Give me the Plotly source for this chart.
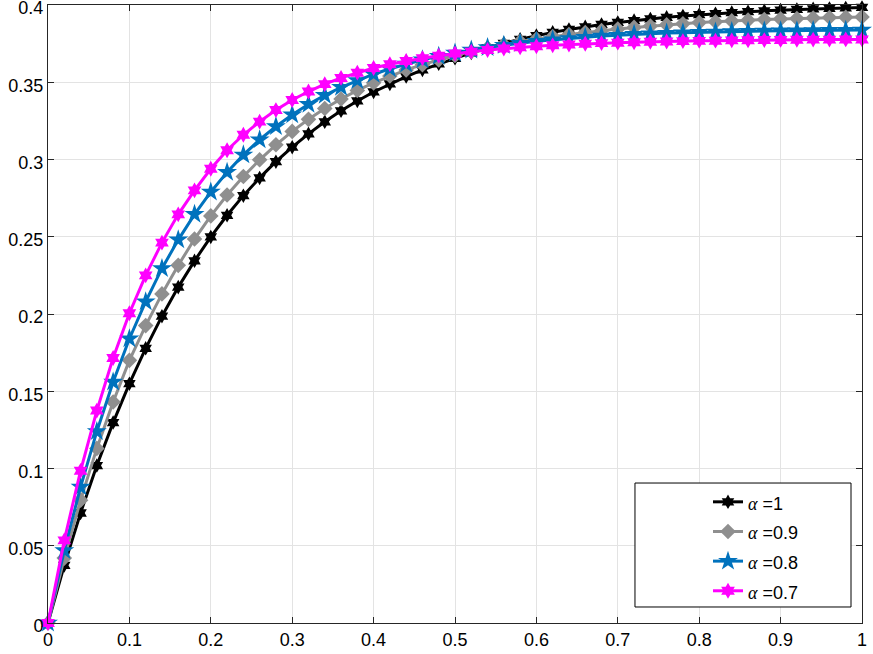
import plotly.graph_objects as go

x_vals = [round(0.02 * i, 2) for i in range(51)]

y_alpha_1 = [0.0, 0.0373, 0.0712, 0.1019, 0.1297, 0.1549, 0.1778, 0.1986, 0.2174, 0.2344,
             0.2499, 0.2639, 0.2766, 0.2881, 0.2986, 0.3080, 0.3166, 0.3244, 0.3315, 0.3379,
             0.3437, 0.3489, 0.3537, 0.3580, 0.3619, 0.3655, 0.3690, 0.3722, 0.3752, 0.3778,
             0.3802, 0.3823, 0.3842, 0.3859, 0.3874, 0.3887, 0.3899, 0.3910, 0.3920, 0.3929,
             0.3937, 0.3944, 0.3951, 0.3957, 0.3962, 0.3967, 0.3971, 0.3975, 0.3978, 0.3981,
             0.3984]

y_alpha_09 = [0.0, 0.0420, 0.0795, 0.1130, 0.1430, 0.1700, 0.1925, 0.2130, 0.2315, 0.2485,
              0.2635, 0.2770, 0.2890, 0.2998, 0.3095, 0.3182, 0.3260, 0.3330, 0.3392, 0.3447,
              0.3496, 0.3540, 0.3580, 0.3614, 0.3645, 0.3673, 0.3698, 0.3722, 0.3744, 0.3763,
              0.3780, 0.3795, 0.3809, 0.3822, 0.3834, 0.3845, 0.3855, 0.3864, 0.3872, 0.3879,
              0.3886, 0.3892, 0.3897, 0.3902, 0.3906, 0.3910, 0.3913, 0.3916, 0.3919, 0.3921,
              0.3923]

y_alpha_08 = [0.0, 0.0470, 0.0880, 0.1240, 0.1560, 0.1840, 0.2080, 0.2295, 0.2480, 0.2645,
              0.2790, 0.2918, 0.3030, 0.3128, 0.3214, 0.3290, 0.3357, 0.3416, 0.3467, 0.3512,
              0.3552, 0.3587, 0.3618, 0.3645, 0.3668, 0.3689, 0.3708, 0.3725, 0.3740, 0.3753,
              0.3765, 0.3775, 0.3784, 0.3792, 0.3799, 0.3805, 0.3810, 0.3814, 0.3818, 0.3821,
              0.3824, 0.3826, 0.3828, 0.3830, 0.3832, 0.3833, 0.3834, 0.3835, 0.3836, 0.3837,
              0.3838]

y_alpha_07 = [0.0, 0.0535, 0.0985, 0.1375, 0.1715, 0.2005, 0.2250, 0.2462, 0.2645, 0.2800,
              0.2940, 0.3060, 0.3160, 0.3245, 0.3320, 0.3385, 0.3440, 0.3488, 0.3528, 0.3562,
              0.3592, 0.3617, 0.3638, 0.3656, 0.3672, 0.3686, 0.3698, 0.3709, 0.3718, 0.3726,
              0.3733, 0.3739, 0.3744, 0.3749, 0.3753, 0.3756, 0.3759, 0.3762, 0.3764, 0.3766,
              0.3768, 0.3769, 0.3771, 0.3772, 0.3773, 0.3774, 0.3775, 0.3776, 0.3776, 0.3777,
              0.3777]

series_labels = ["1", "0.9", "0.8", "0.7"]
series_values = [y_alpha_1, y_alpha_09, y_alpha_08, y_alpha_07]
series_colors = ["#000000", "#8F8F8F", "#0072BD", "#FF00FF"]
series_symbols = ["hexagram", "diamond", "star", "hexagram"]
series_msize = [11, 12, 15, 12]

x_ticks = [0, 0.1, 0.2, 0.3, 0.4, 0.5, 0.6, 0.7, 0.8, 0.9, 1]
x_tick_labels = ["0", "0.1", "0.2", "0.3", "0.4", "0.5", "0.6", "0.7", "0.8", "0.9", "1"]
y_ticks = [0, 0.05, 0.1, 0.15, 0.2, 0.25, 0.3, 0.35, 0.4]
y_tick_labels = ["0", "0.05", "0.1", "0.15", "0.2", "0.25", "0.3", "0.35", "0.4"]

FONT = "Liberation Sans, Arial, Helvetica, sans-serif"

fig = go.Figure()
for lab, vals, col, sym, ms in zip(series_labels, series_values, series_colors,
                                   series_symbols, series_msize):
    name = ('<span style="font-size:18px"><i style="font-family:Liberation Serif, serif">α</i> ='
            + lab + '</span>')
    fig.add_trace(go.Scatter(
        x=x_vals, y=vals, mode="lines+markers", name=name,
        line=dict(color=col, width=3),
        marker=dict(symbol=sym, size=ms, color=col, line=dict(width=0)),
        cliponaxis=False,
    ))

axis_common = dict(
    showgrid=True, gridcolor="#E3E3E3", gridwidth=1,
    zeroline=False, showline=True, linecolor="#262626", linewidth=1,
    mirror="ticks", ticks="inside", ticklen=6, tickcolor="#262626",
    tickfont=dict(family=FONT, size=18, color="#000000"),
    automargin=False, ticklabeloverflow="allow",
)

fig.update_xaxes(range=[0, 1], tickvals=x_ticks, ticktext=x_tick_labels, **axis_common)
fig.update_yaxes(range=[0, 0.4], tickvals=y_ticks, ticktext=y_tick_labels,
                 ticklabelshift=3, **axis_common)

# legend box (drawn as a shape so the box matches the reference size)
fig.add_shape(type="rect", xref="paper", yref="paper",
              x0=0.7211, x1=0.9865, y0=0.0259, y1=0.2265,
              line=dict(color="#000000", width=1), fillcolor="white", layer="above")

fig.update_layout(
    width=873, height=654,
    margin=dict(l=48, r=11, t=5, b=31),
    paper_bgcolor="white", plot_bgcolor="white",
    showlegend=True,
    legend=dict(
        x=(708 - 48) / 814, y=(623 - 482) / 618, xanchor="left", yanchor="top",
        bgcolor="rgba(0,0,0,0)", borderwidth=0,
        font=dict(family=FONT, size=20.5, color="#000000"),
        traceorder="normal", valign="middle",
    ),
)

fig.write_html("out.html", config={"displayModeBar": False},
               post_script="document.body.style.margin='0';")
